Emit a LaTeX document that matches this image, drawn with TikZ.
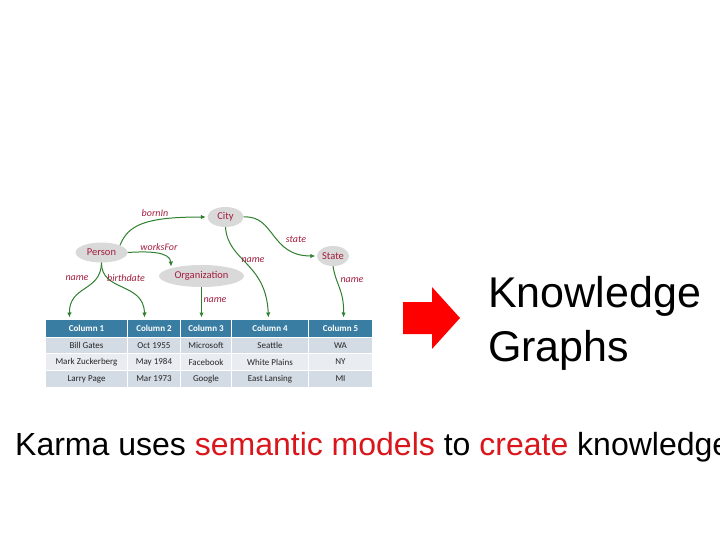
\documentclass[tikz,border=0pt]{standalone}
\usepackage{fontspec}
\setmainfont{Liberation Sans}
\newfontfamily\calfont{Carlito}
\usetikzlibrary{arrows.meta,positioning,shapes.geometric}
\definecolor{kgred}{HTML}{A31D3E}
\definecolor{linkgreen}{HTML}{2F7F2F}
\definecolor{headblue}{HTML}{3A7DA3}
\definecolor{rowdark}{HTML}{D3DBE4}
\definecolor{rowlight}{HTML}{E9EDF2}
\definecolor{callout}{HTML}{D9161C}
\definecolor{ellgray}{HTML}{D9D9D9}

\begin{document}
\begin{tikzpicture}[x=1pt,y=-1pt,>={Latex[length=5pt,width=4.5pt]},
  concept/.style={ellipse,fill=ellgray,inner sep=0pt,text=kgred,font=\calfont\fontsize{10.5}{12}\selectfont},
  rel/.style={text=kgred,inner sep=0pt,font=\calfont\itshape\fontsize{10}{12}\selectfont},
  link/.style={->,draw=linkgreen,line width=1pt,shorten >=1.5pt},
  headcell/.style={draw=white,line width=1pt,fill=headblue,text=white,inner sep=0pt,anchor=north west,minimum height=18pt,font=\calfont\bfseries\fontsize{9}{10}\selectfont},
  cell/.style={draw=white,line width=1pt,inner sep=0pt,anchor=north west,text=black!85,font=\calfont\fontsize{9}{10}\selectfont},
  big/.style={inner sep=0pt,anchor=base west,font=\fontsize{43}{54}\selectfont}]
\clip (0,0) rectangle (720,540);
% semantic model
\node[concept,minimum width=52pt,minimum height=20pt] (person) at (101.5,252.5) {Person};
\node[concept,minimum width=36pt,minimum height=20pt] (city) at (225.5,217) {City};
\node[concept,minimum width=85pt,minimum height=22pt] (org) at (201.5,276) {Organization};
\node[concept,minimum width=32pt,minimum height=20pt] (state) at (333,256) {State};
% source table
\foreach \c/\x/\w/\ra/\rb/\rc in {1/45/82/Bill Gates/Mark Zuckerberg/Larry Page,
    2/127/53/Oct 1955/May 1984/Mar 1973, 3/180/51/Microsoft/Facebook/Google,
    4/231/77/Seattle/White Plains/East Lansing, 5/308/64/WA/NY/MI}{
  \node[headcell,minimum width=\w*1pt] (h\c) at (\x,319) {Column \c};
  \node[cell,fill=rowdark,minimum width=\w*1pt,minimum height=16pt] (a\c) at (\x,337) {\ra};
  \node[cell,fill=rowlight,minimum width=\w*1pt,minimum height=17pt] (b\c) at (\x,353) {\rb};
  \node[cell,fill=rowdark,minimum width=\w*1pt,minimum height=17pt] (c\c) at (\x,370) {\rc};
}
% relations
\draw[link] (person.north east) .. controls (128,225) and (145,217) .. (city.west);
\draw[link] (person.east) .. controls (150,251) and (170,252) .. (org.north west);
\draw[link] (city.east) .. controls (275,215) and (270,256) .. (state.west);
\draw[link] (city.south) .. controls (228,262) and (266,262) .. ([xshift=-1.5pt]h4.north);
\draw[link] (person.south) .. controls (101,292) and (69,285) .. ([xshift=-17pt]h1.north);
\draw[link] (person.south) .. controls (101,292) and (144,282) .. ([xshift=-9.5pt]h2.north);
\draw[link] (org.south) -- (org.south |- h3.north);
\draw[link] (state.south) .. controls (336,285) and (344,290) .. ([xshift=3pt]h5.north);
\node[rel] (lborn) at (155,213) {bornIn};
\node[rel] (lworks) at (159,247) {worksFor};
\node[rel] (lstate) at (296,239) {state};
\node[rel] (lcity) at (253,260) {name};
\node[rel] (lpname) at (77,278) {name};
\node[rel] (lbirth) at (126,278) {birthdate};
\node[rel] (loname) at (215,300) {name};
\node[rel] (lsname) at (352,280) {name};
% result
\fill[red] (403,302) -- (432,302) -- (432,287) -- (460,318) -- (432,349) -- (432,334) -- (403,334) -- cycle;
\node[big] (know) at (488,307) {Knowledge};
\node[big] (graphs) at (488,361) {Graphs};
\node[inner sep=0pt,anchor=base west,font=\fontsize{32}{38}\selectfont] (karma) at (15,455)
  {Karma uses \textcolor{callout}{semantic models} to \textcolor{callout}{create} knowledge};
\end{tikzpicture}
\end{document}
